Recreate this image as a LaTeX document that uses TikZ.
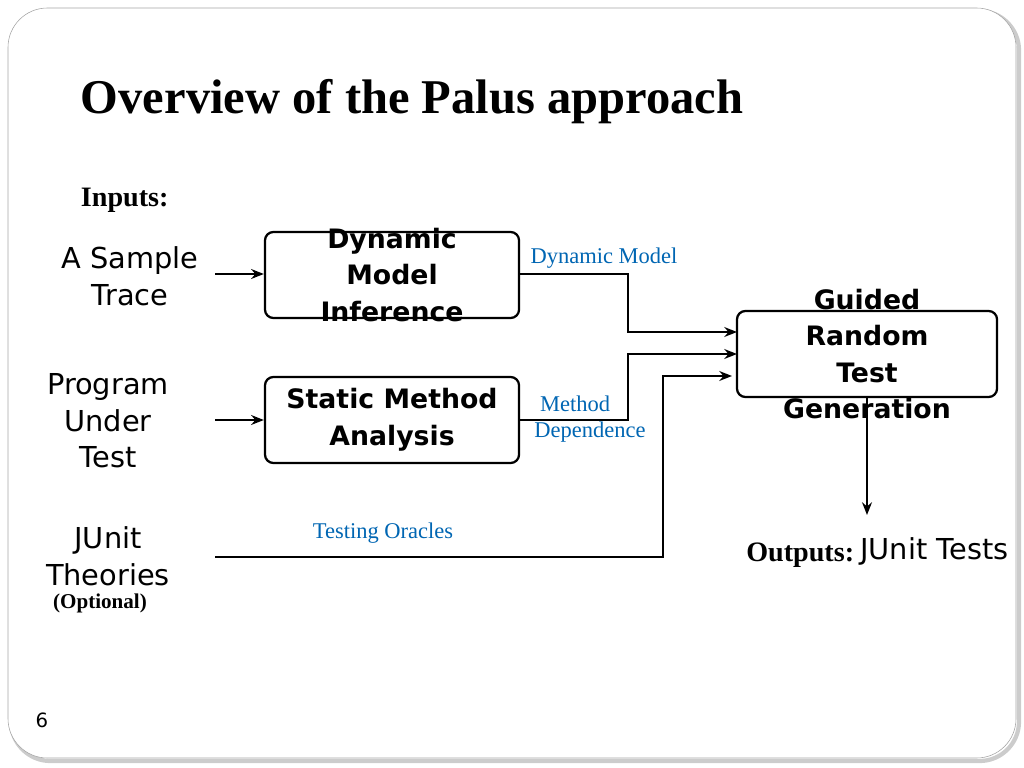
\documentclass[tikz,border=0pt]{standalone}
\usepackage{fontspec}
\setmainfont{Liberation Serif}
\newfontfamily\dejavu{DejaVu Sans}
\usetikzlibrary{positioning,arrows.meta}
\definecolor{lblblue}{RGB}{0,102,179}
\begin{document}
\begin{tikzpicture}[x=0.025cm, y=-0.025cm,
                    procbox/.style={rectangle, rounded corners=6pt, draw, line width=1.6pt,
                                    minimum width=6.35cm, minimum height=2.15cm, inner sep=0pt},
                    boxtext/.style={align=center, font=\dejavu\bfseries\fontsize{19}{26}\selectfont},
                    sidetext/.style={align=center, font=\dejavu\fontsize{20.5}{26}\selectfont},
                    edgelabel/.style={text=lblblue, font=\fontsize{16}{19}\selectfont, inner sep=1pt},
                    flow/.style={-{Stealth[length=9pt,width=7pt]}, line width=1.6pt}]

\useasboundingbox (0,0) rectangle (1024,768);
% slide frame
\draw[gray!40, line width=3pt, rounded corners=28pt] (11,11) rectangle (1019,761);
\draw[gray!70, fill=white, rounded corners=28pt] (8,8) rectangle (1016,758);

% title
\node[anchor=west, font=\bfseries\fontsize{34.5}{40}\selectfont] (title) at (76,102) {Overview of the Palus approach};
\node[anchor=west, font=\bfseries\fontsize{20}{24}\selectfont] (inputs) at (76,200) {Inputs:};

% processing boxes
\node[procbox] (dmi) at (392,275) {};
\node[boxtext] at (dmi.center) {Dynamic\\Model\\Inference};
\node[procbox] (sma) at (392,420) {};
\node[boxtext] at (sma.center) {Static Method\\Analysis};
\node[procbox, minimum width=6.5cm] (grt) at (867,354) {};
\node[boxtext] at (grt.center) {Guided\\Random\\Test\\Generation};

% inputs
\node[sidetext] (trace) at (130,276) {A Sample\\Trace};
\node[sidetext] (put) at (108,421) {Program\\Under\\Test};
\node[sidetext] (junit) at (108,556) {JUnit\\Theories};
\node[font=\bfseries\fontsize{15}{18}\selectfont, inner sep=0pt] (opt) at (100,603) {(Optional)};

% outputs
\node[anchor=west, font=\bfseries\fontsize{20}{24}\selectfont, inner sep=0pt] (outputs) at (746,555) {Outputs:};
\node[sidetext, anchor=west, inner sep=0pt] (tests) at (860,551) {JUnit Tests};

% connections
\coordinate (traceR) at (215,274);
\coordinate (putR) at (215,420);
\coordinate (junitR) at (215,557);
\draw[flow] (traceR) -- (dmi.west |- traceR);
\draw[flow] (putR) -- (sma.west |- putR);
\draw[flow] (dmi.east |- 0,274) -- (628,274) -- (628,332) -- (737,332);
\draw[flow] (sma.east |- 0,420) -- (628,420) -- (628,354) -- (737,354);
\draw[flow] (junitR) -- (663,557) -- (663,376) -- (732,376);
\draw[flow] (867,397) -- (867,515);

% edge labels
\node[edgelabel] at (604,258) {Dynamic Model};
\node[edgelabel] at (575,404) {Method};
\node[edgelabel] at (590,432) {Dependence};
\node[edgelabel] at (383,533) {Testing Oracles};

% page number
\node[font=\dejavu\fontsize{14}{16}\selectfont] (page) at (42,720) {6};
\end{tikzpicture}
\end{document}
